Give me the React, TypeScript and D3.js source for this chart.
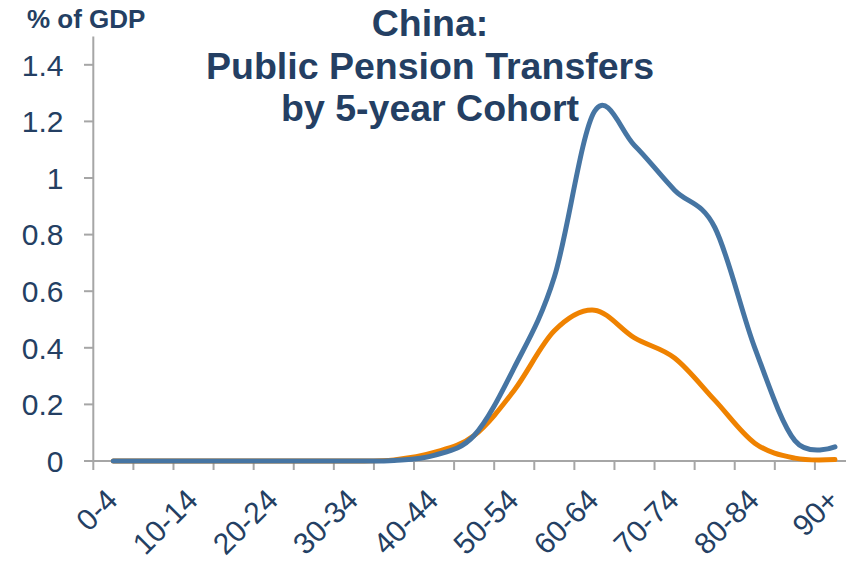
import React from "react";
import * as d3 from "d3";

const categories = ["0-4","5-9","10-14","15-19","20-24","25-29","30-34","35-39","40-44","45-49","50-54","55-59","60-64","65-69","70-74","75-79","80-84","85-89","90+"];
const shownLabels = ["0-4","10-14","20-24","30-34","40-44","50-54","60-64","70-74","80-84","90+"];
const blueValues = [0,0,0,0,0,0,0,0.002,0.02,0.09,0.33,0.65,1.235,1.115,0.957,0.826,0.40,0.072,0.05];
const orangeValues = [0,0,0,0,0,0,0,0.004,0.03,0.09,0.25,0.46,0.533,0.435,0.364,0.215,0.063,0.01,0.005];
const yTicks = [0,0.2,0.4,0.6,0.8,1,1.2,1.4];
const titleLines = ["China:", "Public Pension Transfers", "by 5-year Cohort"];

const W = 846, H = 561;
const TXT = "#243f63";
const AX = "#a6a6a6";

export default function App() {
  const x = d3.scaleBand<string>().domain(categories).range([93.3, 855]).padding(0);
  const y = d3.scaleLinear().domain([0, 1.5]).range([461, 36.5]);
  const cx = (c: string) => (x(c) as number) + x.bandwidth() / 2;
  const line = d3.line<number>()
    .x((_, i) => cx(categories[i]))
    .y((d) => y(d))
    .curve(d3.curveCardinal.tension(0));
  const boundaries = d3.range(categories.length + 1).map((i) => 93.3 + i * x.bandwidth());
  const font = "Arial, 'Liberation Sans', sans-serif";
  return (
    <svg width={W} height={H} style={{ position: "absolute", left: 0, top: 0, background: "#fff" }} fontFamily={font}>
      <line x1={93.3} x2={93.3} y1={y(1.5)} y2={y(0)} stroke={AX} strokeWidth={2} />
      <line x1={84} x2={W} y1={y(0)} y2={y(0)} stroke={AX} strokeWidth={2} />
      {yTicks.map((t) => (
        <g key={t}>
          <line x1={84} x2={93.3} y1={y(t)} y2={y(t)} stroke={AX} strokeWidth={2} />
          <text x={63.5} y={y(t)} dy="0.36em" textAnchor="end" fontSize={30} fill={TXT}>{t}</text>
        </g>
      ))}
      {boundaries.map((b, i) => (
        <line key={i} x1={b} x2={b} y1={y(0)} y2={y(0) + 9} stroke={AX} strokeWidth={2} />
      ))}
      {shownLabels.map((c) => {
        const ax = cx(c) + 6, ay = 502;
        return (
          <text key={c} x={ax} y={ay} textAnchor="end" fontSize={30} fill={TXT} transform={`rotate(-45 ${ax} ${ay})`}>{c}</text>
        );
      })}
      <path d={line(orangeValues) || ""} fill="none" stroke="#ef8200" strokeWidth={5} strokeLinecap="round" strokeLinejoin="round" />
      <path d={line(blueValues) || ""} fill="none" stroke="#4675a3" strokeWidth={5} strokeLinecap="round" strokeLinejoin="round" />
      {titleLines.map((t, i) => (
        <text key={i} x={430} y={36 + i * 42.5} textAnchor="middle" fontSize={37.5} fontWeight="bold" fill={TXT}>{t}</text>
      ))}
      <text x={27} y={28} fontSize={26} fontWeight="bold" fill={TXT}>% of GDP</text>
    </svg>
  );
}
